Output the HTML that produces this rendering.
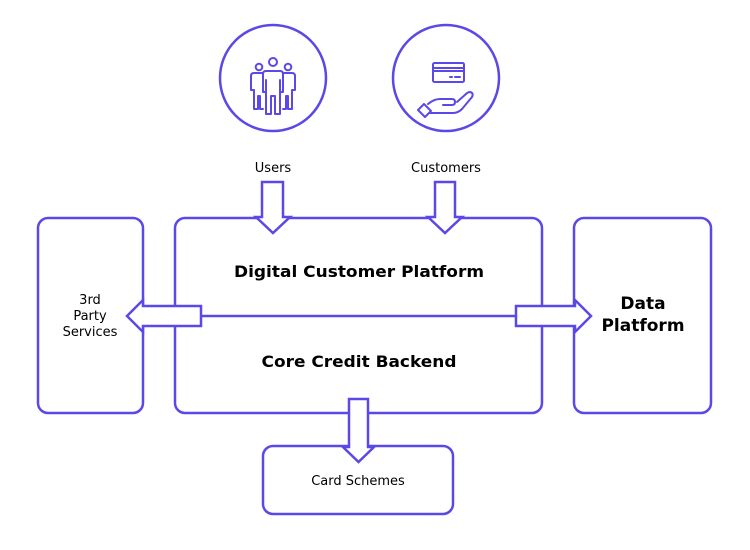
<!DOCTYPE html>
<html><head><meta charset="utf-8"><style>
html,body{margin:0;padding:0;background:#fff;}
svg{display:block;}
text{font-family:"DejaVu Sans","Liberation Sans",sans-serif;fill:#000;}
</style></head><body>
<svg width="750" height="550" viewBox="0 0 750 550" xmlns="http://www.w3.org/2000/svg">
<g fill="none" stroke="#5b48e8" stroke-width="2.5" stroke-linejoin="round" stroke-linecap="round">
  <circle cx="273" cy="78" r="53"/>
  <circle cx="446" cy="78" r="53"/>
  <g stroke-width="2">
    <circle cx="273" cy="62" r="4"/>
    <circle cx="259" cy="67" r="3.3"/>
    <circle cx="288" cy="67" r="3.3"/>
    <path d="M266 71 L280 71 Q283 71 283 74 L283 92 L280 92 L280 114 L275 114 L275 96 L271 96 L271 114 L266 114 L266 92 L263 92 L263 74 Q263 71 266 71 Z"/>
    <path d="M266 80 L266 92 M280 80 L280 92"/>
    <path d="M262 73 L254 73 Q251 73 251 76 L251 90 L254 90 L254 109 L258 109 L258 96 L260 96 L260 109 L263 109"/>
    <path d="M284 73 L292 73 Q295 73 295 76 L295 90 L292 90 L292 109 L288 109 L288 96 L286 96 L286 109 L283 109"/>
  </g>
  <g stroke-width="2">
    <rect x="433" y="63" width="31" height="19" rx="1.5"/>
    <path d="M433 68 H464 M433 71 H464"/>
    <path d="M450 77 H452 M455 77 H460"/>
    <path d="M418 110 L425 117 L431 111 L424 104 Z"/>
    <path d="M428 104 Q434 99 440 99 H452 Q455 99 455 102 Q455 105 452 105 H443"/>
    <path d="M430 113 H453 Q458 113 462 109 L472 97 Q474 93 470 92 Q468 92 466 94 L457 102"/>
  </g>
  <rect x="38" y="218" width="105" height="195" rx="10"/>
  <rect x="175" y="218" width="367" height="195" rx="10"/>
  <rect x="574" y="218" width="137" height="195" rx="10"/>
  <rect x="263" y="446" width="190" height="68" rx="10"/>
  <line x1="175" y1="316" x2="542" y2="316"/>
</g>
<g fill="#fff" stroke="#5b48e8" stroke-width="2.5" stroke-linejoin="miter">
  <path d="M262 182 H283 V217 H290 L273 233 L256 217 H262 Z"/>
  <path d="M435 182 H455 V217 H462 L445 233 L428 217 H435 Z"/>
  <path d="M201 306 V326 H143 V332 L127 316 L143 300 V306 Z"/>
  <path d="M516 306 V326 H575 V332 L591 316 L575 300 V306 Z"/>
  <path d="M349 399 H368 V447 H374 L358.5 462 L343 447 H349 Z"/>
</g>
<text x="273" y="172" font-size="13" text-anchor="middle">Users</text>
<text x="446" y="172" font-size="13" text-anchor="middle">Customers</text>
<text x="359" y="277" font-size="16" font-weight="bold" text-anchor="middle" textLength="250" lengthAdjust="spacingAndGlyphs">Digital Customer Platform</text>
<text x="359" y="367" font-size="16" font-weight="bold" text-anchor="middle" textLength="195" lengthAdjust="spacingAndGlyphs">Core Credit Backend</text>
<text x="90" y="304" font-size="13" text-anchor="middle">3rd</text>
<text x="90" y="320" font-size="13" text-anchor="middle">Party</text>
<text x="90" y="336" font-size="13" text-anchor="middle">Services</text>
<text x="643" y="309" font-size="17" font-weight="bold" text-anchor="middle">Data</text>
<text x="643" y="331" font-size="17" font-weight="bold" text-anchor="middle">Platform</text>
<text x="358" y="485" font-size="13" text-anchor="middle">Card Schemes</text>
</svg>
</body></html>
